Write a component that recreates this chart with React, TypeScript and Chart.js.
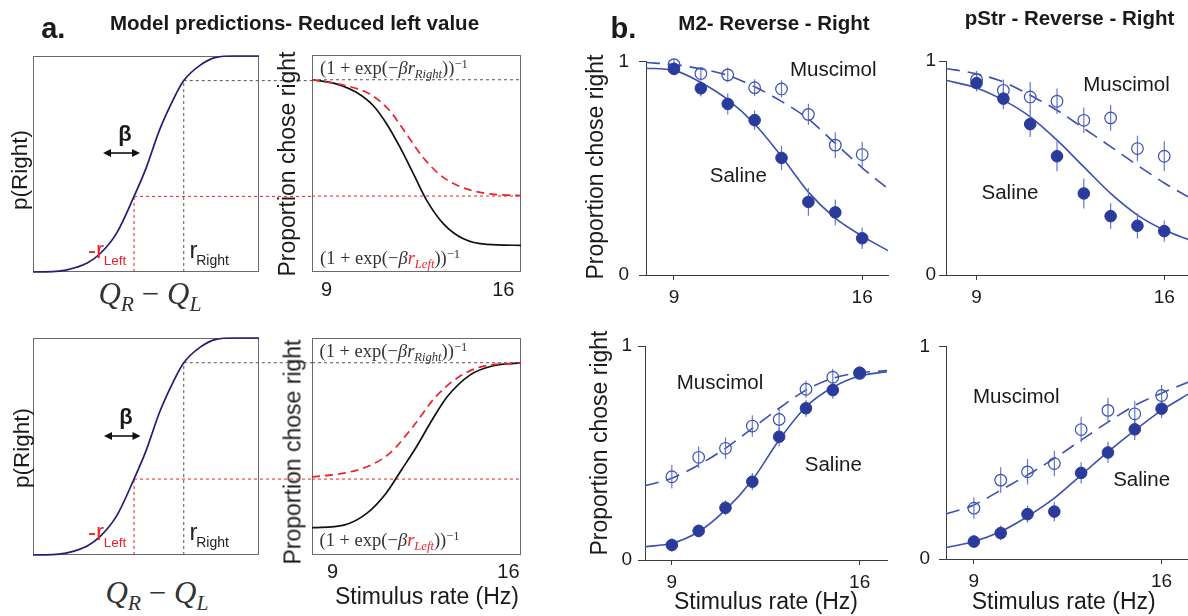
import React, { useEffect, useRef } from 'react';
import { Chart, registerables } from 'chart.js';

Chart.register(...registerables);

// ================= DATA =================
// Panel a, left: model p(Right) against Q_R - Q_L (arbitrary units 0..10)
const qDiff = [0, 1, 1.5, 2.4, 3, 3.7, 4.47, 5, 5.6, 6.2, 6.67, 7.4, 8.1, 8.9, 10];
const pRight = [0, 0.003, 0.01, 0.042, 0.088, 0.18, 0.35, 0.48, 0.658, 0.797, 0.886, 0.958, 0.994, 1, 1];
const qRight = 6.67; // r_Right
const qLeft = 4.47; // -r_Left
const pAtRight = 0.886;
const pAtLeft = 0.35;
const qGapEnd = 12.35; // reference lines run on into the next panel

// Panel a, middle (top row): proportion chose right vs stimulus rate
const aTopRange = [8.42, 16.7];
const aTopBlackX = [8.42, 9.4, 10.19, 10.85, 11.38, 11.91, 12.44, 12.97, 13.63, 14.42, 15.35, 16.7];
const aTopBlackY = [0.886, 0.866, 0.827, 0.766, 0.682, 0.574, 0.452, 0.329, 0.222, 0.153, 0.127, 0.123];
const aTopRedX = [8.42, 9.79, 10.71, 11.5, 12.16, 12.82, 13.62, 14.54, 15.48, 16.7];
const aTopRedY = [0.886, 0.858, 0.82, 0.743, 0.636, 0.528, 0.436, 0.383, 0.36, 0.352];

// Panel a, middle (bottom row)
const aBotRange = [8.18, 16.5];
const aBotBlackX = [8.18, 9.45, 10.37, 11.13, 11.74, 12.34, 12.96, 13.57, 14.48, 15.39, 16.5];
const aBotBlackY = [0.126, 0.138, 0.193, 0.285, 0.392, 0.499, 0.622, 0.73, 0.83, 0.872, 0.885];
const aBotRedX = [8.18, 9.45, 10.37, 11.28, 12.19, 13.11, 14.02, 14.93, 16.5];
const aBotRedY = [0.36, 0.377, 0.407, 0.469, 0.59, 0.73, 0.82, 0.868, 0.885];

const rateTicks = [9, 16];
const propTicks = [0, 1];

// Panel b
const rates = [9, 10, 11, 12, 13, 14, 15, 16];

// M2 - Reverse - Right (top)
const m2TopSaline = [0.965, 0.874, 0.801, 0.725, 0.548, 0.342, 0.293, 0.172];
const m2TopSalineErr = [0.03, 0.038, 0.05, 0.045, 0.057, 0.065, 0.06, 0.05];
const m2TopMusc = [0.985, 0.943, 0.937, 0.877, 0.871, 0.752, 0.608, 0.564];
const m2TopMuscErr = [0.027, 0.03, 0.035, 0.04, 0.04, 0.05, 0.06, 0.06];
const m2TopFitX = [7.96, 9, 10, 11, 12, 13, 14, 15, 16, 16.96];
const m2TopSalineFit = [0.968, 0.958, 0.901, 0.821, 0.707, 0.555, 0.388, 0.266, 0.182, 0.114];
const m2TopMuscFit = [0.995, 0.985, 0.965, 0.935, 0.881, 0.813, 0.73, 0.616, 0.502, 0.404];

// pStr - Reverse - Right (top)
const pStrTopSaline = [0.897, 0.824, 0.705, 0.555, 0.381, 0.275, 0.23, 0.205];
const pStrTopSalineErr = [0.04, 0.05, 0.06, 0.07, 0.07, 0.06, 0.06, 0.05];
const pStrTopMusc = [0.913, 0.863, 0.832, 0.812, 0.723, 0.734, 0.591, 0.555];
const pStrTopMuscErr = [0.04, 0.05, 0.07, 0.06, 0.06, 0.06, 0.06, 0.07];
const pStrTopFitX = [7.86, 9, 10, 11, 12, 13, 14, 15, 16, 16.96];
const pStrTopSalineFit = [0.91, 0.874, 0.817, 0.739, 0.63, 0.505, 0.381, 0.28, 0.21, 0.163];
const pStrTopMuscFit = [0.965, 0.94, 0.902, 0.84, 0.77, 0.685, 0.6, 0.513, 0.43, 0.36];

// M2 (bottom)
const m2BotSaline = [0.07, 0.136, 0.244, 0.366, 0.576, 0.709, 0.794, 0.875];
const m2BotSalineErr = [0.03, 0.03, 0.035, 0.04, 0.045, 0.04, 0.04, 0.03];
const m2BotMusc = [0.389, 0.48, 0.522, 0.626, 0.657, 0.798, 0.854, 0.872];
const m2BotMuscErr = [0.055, 0.05, 0.05, 0.05, 0.05, 0.04, 0.04, 0.03];
const m2BotFitX = [8, 9, 10, 11, 12, 13, 14, 15, 16, 17.02];
const m2BotSalineFit = [0.062, 0.078, 0.132, 0.234, 0.374, 0.561, 0.716, 0.807, 0.86, 0.88];
const m2BotMuscFit = [0.347, 0.382, 0.444, 0.522, 0.615, 0.709, 0.794, 0.849, 0.875, 0.885];

// pStr (bottom)
const pStrBotSaline = [0.082, 0.122, 0.211, 0.223, 0.405, 0.501, 0.61, 0.707];
const pStrBotSalineErr = [0.03, 0.035, 0.04, 0.045, 0.05, 0.05, 0.05, 0.045];
const pStrBotMusc = [0.239, 0.371, 0.41, 0.449, 0.609, 0.699, 0.683, 0.769];
const pStrBotMuscErr = [0.05, 0.06, 0.06, 0.06, 0.06, 0.06, 0.06, 0.05];
const pStrBotFitX = [7.96, 9, 10, 11, 12, 13, 14, 15, 16, 17.06];
const pStrBotSalineFit = [0.054, 0.082, 0.129, 0.2, 0.286, 0.395, 0.504, 0.605, 0.699, 0.78];
const pStrBotMuscFit = [0.212, 0.254, 0.324, 0.395, 0.473, 0.559, 0.644, 0.722, 0.78, 0.835];

// ================= STYLE =================
const SANS = '"Liberation Sans", Arial, Helvetica, sans-serif';
const SERIF = '"Liberation Serif", "Times New Roman", serif';
const NAVY = '#1f2070';
const RED = '#ec2229';
const GREY_DASH = '#555555';
const FRAME = '#6a6a6a';
const AXIS = '#3a3a3a';
const DOT = '#2b3b9b';
const FIT = '#3b50b0';
const ERR = '#6878c8';
const TEXT = '#1a1a1a';

type Rect = { x: number; y: number; w: number; h: number };
type Area = { l: number; t: number; r: number; b: number };

const framePlugin = {
  id: 'frame',
  beforeDatasetsDraw(chart: any, _args: any, opts: any) {
    if (!opts || !opts.show) return;
    const { ctx, chartArea: a } = chart;
    ctx.save();
    ctx.strokeStyle = FRAME;
    ctx.lineWidth = 1;
    ctx.strokeRect(a.left + 0.5, a.top + 0.5, a.right - a.left - 1, a.bottom - a.top - 1);
    ctx.restore();
  },
};

const pts = (xs: number[], ys: number[]) => xs.map((x, i) => ({ x, y: ys[i] }));
const errSegs = (xs: number[], ys: number[], es: number[]) =>
  xs.flatMap((x, i) => [
    { x, y: ys[i] - es[i] },
    { x, y: ys[i] + es[i] },
    { x, y: null },
  ]);

const lineDs = (data: any[], color: string, width: number, dash: number[] = [], order = 3, monotone = true) => ({
  type: 'line',
  data,
  borderColor: color,
  borderWidth: width,
  borderDash: dash,
  pointRadius: 0,
  pointHoverRadius: 0,
  fill: false,
  cubicInterpolationMode: monotone ? 'monotone' : 'default',
  tension: 0,
  clip: false,
  spanGaps: false,
  order,
});

const dotDs = (data: any[], filled: boolean, order: number) => ({
  type: 'line',
  data,
  showLine: false,
  pointRadius: 5.8,
  pointHoverRadius: 5.8,
  pointBackgroundColor: filled ? DOT : 'rgba(0,0,0,0)',
  pointBorderColor: filled ? DOT : FIT,
  pointBorderWidth: filled ? 1 : 1.2,
  clip: false,
  order,
});

function buildOptions(spec: any) {
  const {
    rect, area, xMin, xMax, xTicks = [], yTicks = [], xH = 0, yW = 0,
    axes = false, frame = false, xPad = 6, yPad = 8, tickSize = 19,
  } = spec;
  const padding = {
    left: area.l - rect.x - yW,
    top: area.t - rect.y,
    right: rect.x + rect.w - area.r,
    bottom: rect.y + rect.h - area.b - xH,
  };
  const font = { family: SANS, size: tickSize };
  return {
    responsive: false,
    maintainAspectRatio: false,
    animation: false,
    devicePixelRatio: 1,
    events: [],
    layout: { padding },
    plugins: { legend: { display: false }, tooltip: { enabled: false }, frame: { show: frame } },
    scales: {
      x: {
        type: 'linear', position: 'bottom', min: xMin, max: xMax, display: xTicks.length > 0,
        afterBuildTicks: (s: any) => { s.ticks = xTicks.map((v: number) => ({ value: v })); },
        afterFit: (s: any) => { s.height = xH; },
        ticks: { font, color: TEXT, padding: xPad, maxRotation: 0, minRotation: 0, autoSkip: false, callback: (v: any) => String(v) },
        grid: { display: axes, drawOnChartArea: false, drawTicks: axes, tickLength: 5, color: AXIS, lineWidth: 1 },
        border: { display: axes, color: AXIS, width: 1 },
      },
      y: {
        type: 'linear', position: 'left', min: 0, max: 1, display: yTicks.length > 0,
        afterBuildTicks: (s: any) => { s.ticks = yTicks.map((v: number) => ({ value: v })); },
        afterFit: (s: any) => { s.width = yW; },
        ticks: { font, color: TEXT, padding: yPad, autoSkip: false, callback: (v: any) => String(v) },
        grid: { display: axes, drawOnChartArea: false, drawTicks: axes, tickLength: 7, color: AXIS, lineWidth: 1 },
        border: { display: axes, color: AXIS, width: 1 },
      },
    },
  };
}

// ================= LAYOUT =================
const LAY: Record<string, { rect: Rect; area: Area; xH?: number; yW?: number; xPad?: number; yPad?: number }> = {
  aLeftTop: { rect: { x: 20, y: 40, w: 300, h: 250 }, area: { l: 33, t: 56, r: 259, b: 272 } },
  aLeftBot: { rect: { x: 20, y: 322, w: 300, h: 250 }, area: { l: 33, t: 338, r: 259, b: 555 } },
  aMidTop: { rect: { x: 300, y: 40, w: 235, h: 265 }, area: { l: 312, t: 55, r: 521, b: 272 }, xH: 33, xPad: 6 },
  aMidBot: { rect: { x: 300, y: 322, w: 235, h: 265 }, area: { l: 312, t: 338, r: 521, b: 555 }, xH: 30, xPad: 5 },
  bM2Top: { rect: { x: 590, y: 40, w: 310, h: 280 }, area: { l: 646, t: 56, r: 888, b: 275 }, xH: 40, yW: 56, xPad: 6, yPad: 10 },
  bPStrTop: { rect: { x: 890, y: 40, w: 310, h: 280 }, area: { l: 946, t: 61, r: 1190, b: 275 }, xH: 40, yW: 56, xPad: 6, yPad: 3 },
  bM2Bot: { rect: { x: 590, y: 326, w: 310, h: 290 }, area: { l: 645, t: 346, r: 887, b: 560 }, xH: 40, yW: 55, xPad: 6, yPad: 6 },
  bPStrBot: { rect: { x: 890, y: 326, w: 310, h: 290 }, area: { l: 946, t: 346, r: 1190, b: 559 }, xH: 40, yW: 56, xPad: 6, yPad: 9 },
};

function aLeftConfig(key: string) {
  const lay = LAY[key];
  return {
    type: 'line',
    data: {
      datasets: [
        lineDs(pts(qDiff, pRight), NAVY, 1.7, [], 0),
        lineDs([{ x: qRight, y: pAtRight }, { x: qGapEnd, y: pAtRight }], GREY_DASH, 1, [3, 3], 2, false),
        lineDs([{ x: qRight, y: 0 }, { x: qRight, y: pAtRight }], GREY_DASH, 1, [3, 3], 2, false),
        lineDs([{ x: qLeft, y: pAtLeft }, { x: qGapEnd, y: pAtLeft }], RED, 1, [3, 3], 1, false),
        lineDs([{ x: qLeft, y: 0 }, { x: qLeft, y: pAtLeft }], RED, 1, [3, 3], 1, false),
      ],
    },
    options: buildOptions({ ...lay, xMin: 0, xMax: 10, frame: true }),
    plugins: [framePlugin],
  };
}

function aMidConfig(key: string, range: number[], bx: number[], by: number[], rx: number[], ry: number[]) {
  const lay = LAY[key];
  return {
    type: 'line',
    data: {
      datasets: [
        lineDs(pts(bx, by), '#111111', 1.7, [], 1),
        lineDs(pts(rx, ry), RED, 1.7, [8, 5], 0),
        lineDs([{ x: range[0], y: pAtRight }, { x: range[1], y: pAtRight }], GREY_DASH, 1, [3, 3], 3, false),
        lineDs([{ x: range[0], y: pAtLeft }, { x: range[1], y: pAtLeft }], RED, 1, [3, 3], 3, false),
      ],
    },
    options: buildOptions({ ...lay, xMin: range[0], xMax: range[1], xTicks: rateTicks, frame: true, tickSize: 20 }),
    plugins: [framePlugin],
  };
}

function bConfig(key: string, fitX: number[], sal: number[], salErr: number[], mus: number[], musErr: number[], salFit: number[], musFit: number[]) {
  const lay = LAY[key];
  return {
    type: 'line',
    data: {
      datasets: [
        dotDs(pts(rates, sal), true, 0),
        dotDs(pts(rates, mus), false, 1),
        lineDs(errSegs(rates, sal, salErr), ERR, 1.2, [], 2, false),
        lineDs(errSegs(rates, mus, musErr), ERR, 1.2, [], 2, false),
        lineDs(pts(fitX, salFit), FIT, 1.6, [], 3),
        lineDs(pts(fitX, musFit), FIT, 1.6, [14, 8], 3),
      ],
    },
    options: buildOptions({ ...lay, xMin: fitX[0], xMax: fitX[fitX.length - 1], xTicks: rateTicks, yTicks: propTicks, axes: true, tickSize: 19 }),
  };
}

function ChartCanvas({ rect, make }: { rect: Rect; make: () => any }) {
  const ref = useRef<HTMLCanvasElement>(null);
  useEffect(() => {
    const chart = new Chart(ref.current as HTMLCanvasElement, make());
    return () => chart.destroy();
  }, []);
  return (
    <canvas
      ref={ref}
      width={rect.w}
      height={rect.h}
      style={{ position: 'absolute', left: rect.x, top: rect.y, width: rect.w, height: rect.h }}
    />
  );
}

function T({ x, y, size, children, bold = false, color = TEXT, family = SANS, align = 'center', rotate = 0 }: any) {
  const tx = align === 'center' ? '-50%' : align === 'left' ? '0%' : '-100%';
  return (
    <div
      style={{
        position: 'absolute', left: x, top: y, fontSize: size, fontFamily: family,
        fontWeight: bold ? 700 : 400, color, whiteSpace: 'nowrap', lineHeight: 1,
        transform: `translate(${tx}, -50%)${rotate ? ` rotate(${rotate}deg)` : ''}`,
      }}
    >
      {children}
    </div>
  );
}

const subStyle: any = { fontSize: '0.68em', fontStyle: 'italic', position: 'relative', top: '0.32em' };
const supStyle: any = { fontSize: '0.68em', position: 'relative', top: '-0.5em' };

function Formula({ x, y, sub, accent }: { x: number; y: number; sub: string; accent?: string }) {
  return (
    <T x={x} y={y} size={18.5} family={SERIF} align="left" color="#333">
      (1 + exp(−<i>β</i>
      <i style={{ color: accent || '#333' }}>r</i>
      <span style={{ ...subStyle, color: accent || '#333' }}>{sub}</span>))
      <span style={supStyle}>−1</span>
    </T>
  );
}

function QLabel({ x, y }: { x: number; y: number }) {
  const s: any = { fontSize: '0.7em', fontStyle: 'italic', position: 'relative', top: '0.3em' };
  return (
    <T x={x} y={y} size={31} family={SERIF} color="#333">
      <i>Q</i><span style={s}>R</span>
      <span style={{ margin: '0 0.25em' }}>−</span>
      <i>Q</i><span style={s}>L</span>
    </T>
  );
}

function Arrow({ x1, x2, y }: { x1: number; x2: number; y: number }) {
  const w = x2 - x1 + 4;
  return (
    <svg style={{ position: 'absolute', left: x1 - 2, top: y - 6 }} width={w} height={12}>
      <line x1={6} y1={6} x2={w - 6} y2={6} stroke="#111" strokeWidth={1.6} />
      <path d={`M2,6 L10,2 L10,10 Z`} fill="#111" />
      <path d={`M${w - 2},6 L${w - 10},2 L${w - 10},10 Z`} fill="#111" />
    </svg>
  );
}

function ModelLabels({ dy }: { dy: number }) {
  return (
    <>
      <T x={96} y={250 + dy} size={24} color={RED}>-r</T>
      <T x={115} y={261 + dy} size={13.5} color={RED}>Left</T>
      <T x={193.5} y={250 + dy} size={24} color="#222">r</T>
      <T x={212.5} y={259.5 + dy} size={14} color="#222">Right</T>
    </>
  );
}

export default function App() {
  return (
    <div style={{ position: 'fixed', left: 0, top: 0, width: 1188, height: 616, overflow: 'hidden', background: '#fff' }}>
      <ChartCanvas rect={LAY.aLeftTop.rect} make={() => aLeftConfig('aLeftTop')} />
      <ChartCanvas rect={LAY.aLeftBot.rect} make={() => aLeftConfig('aLeftBot')} />
      <ChartCanvas rect={LAY.aMidTop.rect} make={() => aMidConfig('aMidTop', aTopRange, aTopBlackX, aTopBlackY, aTopRedX, aTopRedY)} />
      <ChartCanvas rect={LAY.aMidBot.rect} make={() => aMidConfig('aMidBot', aBotRange, aBotBlackX, aBotBlackY, aBotRedX, aBotRedY)} />
      <ChartCanvas rect={LAY.bM2Top.rect} make={() => bConfig('bM2Top', m2TopFitX, m2TopSaline, m2TopSalineErr, m2TopMusc, m2TopMuscErr, m2TopSalineFit, m2TopMuscFit)} />
      <ChartCanvas rect={LAY.bPStrTop.rect} make={() => bConfig('bPStrTop', pStrTopFitX, pStrTopSaline, pStrTopSalineErr, pStrTopMusc, pStrTopMuscErr, pStrTopSalineFit, pStrTopMuscFit)} />
      <ChartCanvas rect={LAY.bM2Bot.rect} make={() => bConfig('bM2Bot', m2BotFitX, m2BotSaline, m2BotSalineErr, m2BotMusc, m2BotMuscErr, m2BotSalineFit, m2BotMuscFit)} />
      <ChartCanvas rect={LAY.bPStrBot.rect} make={() => bConfig('bPStrBot', pStrBotFitX, pStrBotSaline, pStrBotSalineErr, pStrBotMusc, pStrBotMuscErr, pStrBotSalineFit, pStrBotMuscFit)} />

      {/* headings */}
      <T x={53.3} y={28.3} size={29} bold>a.</T>
      <T x={294.5} y={22.5} size={20.5} bold>Model predictions- Reduced left value</T>
      <T x={623.5} y={28.3} size={29} bold>b.</T>
      <T x={774} y={22.5} size={20.5} bold>M2- Reverse - Right</T>
      <T x={1069.5} y={17.5} size={20.5} bold>pStr - Reverse - Right</T>

      {/* panel a axis labels */}
      <T x={19.7} y={170} size={22.5} rotate={-90}>p(Right)</T>
      <T x={21.5} y={447.5} size={22.5} rotate={-90}>p(Right)</T>
      <T x={286.5} y={164} size={23} rotate={-90}>Proportion chose right</T>
      <T x={292.7} y={451.7} size={23} rotate={-90}>Proportion chose right</T>
      <QLabel x={150} y={293} />
      <QLabel x={157} y={592} />
      <T x={427} y={596} size={23}>Stimulus rate (Hz)</T>

      {/* beta & arrows */}
      <T x={125} y={134} size={22} bold>β</T>
      <Arrow x1={103} x2={140} y={153} />
      <T x={126} y={417} size={22} bold>β</T>
      <Arrow x1={104} x2={140.5} y={436} />
      <ModelLabels dy={0} />
      <ModelLabels dy={282} />

      {/* formulas */}
      <Formula x={320} y={68.3} sub="Right" />
      <Formula x={320} y={258.3} sub="Left" accent={RED} />
      <Formula x={319.5} y={350.8} sub="Right" />
      <Formula x={319.5} y={540} sub="Left" accent={RED} />

      {/* panel b labels */}
      <T x={595.4} y={166.7} size={23} rotate={-90}>Proportion chose right</T>
      <T x={599} y={443.3} size={23} rotate={-90}>Proportion chose right</T>
      <T x={766} y={600.5} size={23}>Stimulus rate (Hz)</T>
      <T x={1063.7} y={600.5} size={23}>Stimulus rate (Hz)</T>

      <T x={833.3} y={69} size={20.5}>Muscimol</T>
      <T x={738.3} y={175} size={20.5}>Saline</T>
      <T x={1126.5} y={83.8} size={20.5}>Muscimol</T>
      <T x={1010} y={192} size={20.5}>Saline</T>
      <T x={720} y={382} size={20.5}>Muscimol</T>
      <T x={833.3} y={464} size={20.5}>Saline</T>
      <T x={1016.3} y={396} size={20.5}>Muscimol</T>
      <T x={1141.7} y={479} size={20.5}>Saline</T>
    </div>
  );
}
